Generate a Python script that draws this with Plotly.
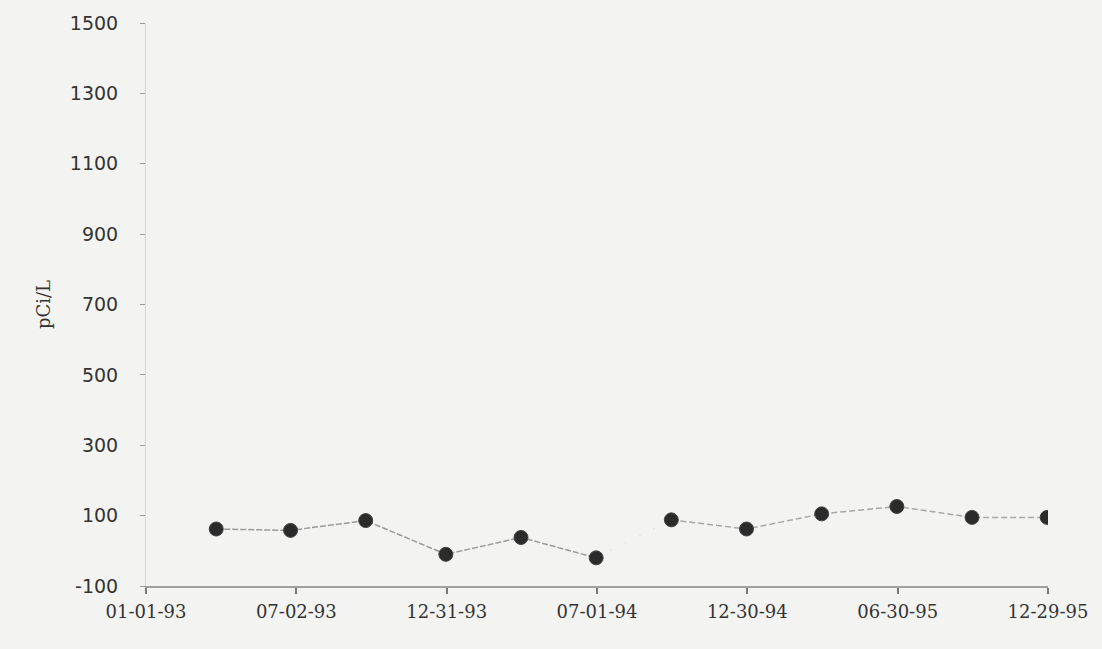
import plotly.graph_objects as go

# Data
dates = ["1993-03-27", "1993-06-25", "1993-09-24", "1993-12-30", "1994-03-31", "1994-06-30",
         "1994-09-29", "1994-12-29", "1995-03-30", "1995-06-29", "1995-09-28", "1995-12-28"]
values = [62, 58, 86, -10, 38, -20, 88, 62, 105, 126, 95, 95]

tick_dates = ["1993-01-01", "1993-07-02", "1993-12-31", "1994-07-01", "1994-12-30", "1995-06-30", "1995-12-29"]
tick_labels = ["01-01-93", "07-02-93", "12-31-93", "07-01-94", "12-30-94", "06-30-95", "12-29-95"]
y_ticks = [-100, 100, 300, 500, 700, 900, 1100, 1300, 1500]
y_tick_labels = ["-100", "100", "300", "500", "700", "900", "1100", "1300", "1500"]

bg = "#f3f3f1"
fig = go.Figure()

# connecting lines (first run, faint gap segment, second run)
fig.add_trace(go.Scatter(x=dates[:6], y=values[:6], mode="lines",
                         line=dict(color="#9a9a9a", width=1.5, dash="6px,2px"),
                         hoverinfo="skip", showlegend=False))
fig.add_trace(go.Scatter(x=dates[5:7], y=values[5:7], mode="lines",
                         line=dict(color="#dcdcdc", width=1, dash="2px,14px"),
                         hoverinfo="skip", showlegend=False))
fig.add_trace(go.Scatter(x=dates[6:], y=values[6:], mode="lines",
                         line=dict(color="#a8a8a8", width=1.5, dash="6px,3px"),
                         hoverinfo="skip", showlegend=False))
# markers
fig.add_trace(go.Scatter(x=dates, y=values, mode="markers",
                         marker=dict(color="#2b2b2b", size=14,
                                     line=dict(color="#444444", width=1)),
                         showlegend=False))

fig.update_layout(
    width=1102, height=649,
    margin=dict(l=146, r=54, t=20, b=63),
    paper_bgcolor=bg, plot_bgcolor=bg,
    showlegend=False,
)
fig.update_xaxes(
    type="date", range=["1993-01-01", "1995-12-29"],
    tickvals=tick_dates, ticktext=tick_labels,
    showgrid=False, zeroline=False,
    showline=True, linecolor="#a0a0a0", linewidth=1.5,
    ticks="outside", ticklen=6, tickcolor="#777777", tickwidth=1.5,
    tickfont=dict(family="DejaVu Serif", size=18, color="#333333"),
    ticklabelstandoff=3,
)
fig.update_yaxes(
    range=[-100, 1500], tickvals=y_ticks, ticktext=y_tick_labels,
    showgrid=False, zeroline=False,
    showline=True, linecolor="#d6d6d6", linewidth=1,
    ticks="outside", ticklen=5, tickcolor="#999999", tickwidth=1,
    tickfont=dict(family="DejaVu Sans", size=19, color="#333333"),
    ticklabelstandoff=18,
    title=dict(text="pCi/L", font=dict(family="DejaVu Serif", size=18, color="#333333"),
               standoff=14),
)

fig.write_html(
    "out.html",
    config={"displayModeBar": False},
    post_script="document.body.style.margin='0';document.body.style.background='%s';" % bg,
)
